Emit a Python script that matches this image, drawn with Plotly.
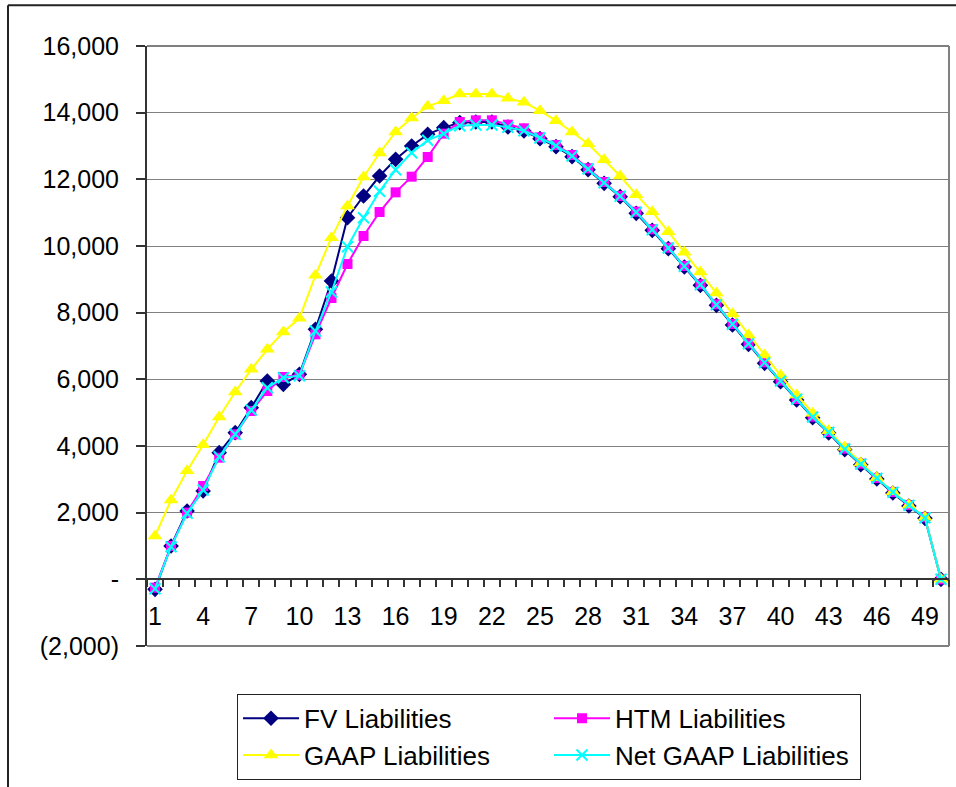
import plotly.graph_objects as go

periods = list(range(1, 51))

fv_liabilities = [-300, 1000, 2050, 2650, 3800, 4400, 5150, 5950, 5850, 6150,
                  7500, 8950, 10850, 11500, 12100, 12600, 13000, 13350, 13550, 13700,
                  13720, 13720, 13570, 13450, 13220, 12980, 12680, 12290, 11880, 11480,
                  10980, 10470, 9920, 9370, 8820, 8220, 7630, 7050, 6480, 5930,
                  5380, 4850, 4390, 3890, 3440, 3010, 2590, 2200, 1830, 0]

htm_liabilities = [-250, 1000, 2000, 2800, 3650, 4350, 5050, 5650, 6070, 6130,
                   7350, 8440, 9460, 10300, 11020, 11610, 12080, 12670, 13370, 13720,
                   13770, 13770, 13640, 13530, 13260, 13030, 12730, 12330, 11920, 11500,
                   11030, 10500, 9950, 9400, 8850, 8250, 7660, 7080, 6510, 5960,
                   5410, 4880, 4420, 3920, 3470, 3040, 2620, 2230, 1860, 0]

gaap_liabilities = [1300, 2380, 3260, 4040, 4870, 5620, 6300, 6900, 7420, 7830,
                    9120, 10250, 11200, 12070, 12790, 13420, 13840, 14190, 14360, 14560,
                    14560, 14560, 14430, 14310, 14060, 13760, 13420, 13070, 12590, 12100,
                    11540, 11030, 10430, 9810, 9220, 8590, 7970, 7330, 6730, 6120,
                    5530, 4980, 4460, 3960, 3490, 3050, 2630, 2230, 1860, 0]

net_gaap_liabilities = [-280, 980, 1980, 2680, 3680, 4350, 5080, 5750, 6050, 6110,
                        7450, 8620, 9980, 10850, 11640, 12290, 12800, 13170, 13370, 13610,
                        13630, 13630, 13560, 13460, 13240, 13010, 12700, 12310, 11900, 11490,
                        11010, 10490, 9940, 9390, 8840, 8240, 7650, 7070, 6500, 5950,
                        5400, 4870, 4410, 3910, 3460, 3030, 2610, 2220, 1850, 0]

x_tick_vals = list(range(1, 51, 3))
x_tick_text = [str(v) for v in x_tick_vals]
y_tick_vals = list(range(-2000, 16001, 2000))
y_tick_text = ["(2,000)", "-", "2,000", "4,000", "6,000", "8,000",
               "10,000", "12,000", "14,000", "16,000"]

FONT = "Liberation Sans, Arial, sans-serif"

fig = go.Figure()
fig.add_trace(go.Scatter(x=periods, y=fv_liabilities, name="FV Liabilities",
                         mode="lines+markers",
                         line=dict(color="#000080", width=2),
                         marker=dict(symbol="diamond", size=12, color="#000080")))
fig.add_trace(go.Scatter(x=periods, y=htm_liabilities, name="HTM Liabilities",
                         mode="lines+markers",
                         line=dict(color="#FF00FF", width=2),
                         marker=dict(symbol="square", size=10, color="#FF00FF")))
fig.add_trace(go.Scatter(x=periods, y=gaap_liabilities, name="GAAP Liabilities",
                         mode="lines+markers",
                         line=dict(color="#FFFF00", width=2),
                         marker=dict(symbol="triangle-up", size=13, color="#FFFF00")))
fig.add_trace(go.Scatter(x=periods, y=net_gaap_liabilities, name="Net GAAP Liabilities",
                         mode="lines+markers",
                         line=dict(color="#00FFFF", width=2),
                         marker=dict(symbol="x-thin", size=11, color="#00FFFF",
                                     line=dict(color="#00FFFF", width=2))))

L, R, T, B = 147, 7, 46, 139
W, H = 956, 787
pw, ph = W - L - R, H - T - B

def px(xp):
    return (xp - L) / pw

def py(yp):
    return (H - B - yp) / ph

fig.update_layout(
    width=W, height=H,
    margin=dict(l=L, r=R, t=T, b=B, pad=0),
    paper_bgcolor="white", plot_bgcolor="white",
    font=dict(family=FONT, size=25, color="black"),
    showlegend=True,
    legend=dict(orientation="h", x=px(237), y=py(696), xanchor="left", yanchor="top",
                bgcolor="white", bordercolor="#222222", borderwidth=1,
                font=dict(family=FONT, size=26, color="black"),
                entrywidth=240, entrywidthmode="pixels", itemwidth=56,
                traceorder="normal"),
    xaxis=dict(range=[0.5, 50.5], tickmode="array", tickvals=x_tick_vals,
               ticktext=x_tick_text, showgrid=False, zeroline=False,
               anchor="free", position=2000 / 18000, side="bottom",
               showline=True, linecolor="#333333", linewidth=2,
               ticks="outside", ticklen=7, tickcolor="rgba(0,0,0,0)",
               ticklabelstandoff=8,
               tickfont=dict(family=FONT, size=25, color="black"),
               minor=dict(tick0=0.5, dtick=1, ticks="outside", ticklen=7,
                          tickwidth=1.5, tickcolor="#333333", showgrid=False)),
    yaxis=dict(range=[-2000, 16000], tickmode="array", tickvals=y_tick_vals,
               ticktext=y_tick_text, showgrid=True, gridcolor="#808080", gridwidth=1.3,
               zeroline=False, showline=True, linecolor="#333333", linewidth=2,
               ticks="outside", ticklen=9, tickwidth=1.5, tickcolor="#333333",
               ticklabelstandoff=12,
               tickfont=dict(family=FONT, size=25, color="black")),
    shapes=[
        dict(type="line", xref="paper", yref="paper", x0=0, x1=1, y0=1, y1=1,
             line=dict(color="#808080", width=2), layer="below"),
        dict(type="line", xref="paper", yref="paper", x0=1, x1=1, y0=0, y1=1,
             line=dict(color="#808080", width=2), layer="below"),
        dict(type="line", xref="paper", yref="paper", x0=0, x1=1, y0=0, y1=0,
             line=dict(color="#808080", width=2), layer="below"),
        dict(type="line", xref="paper", yref="paper", x0=px(8), x1=px(8),
             y0=py(5), y1=py(820), line=dict(color="#222222", width=2)),
        dict(type="line", xref="paper", yref="paper", x0=px(8), x1=px(990),
             y0=py(5), y1=py(5), line=dict(color="#222222", width=2)),
    ],
)

fig.write_html("out.html")
